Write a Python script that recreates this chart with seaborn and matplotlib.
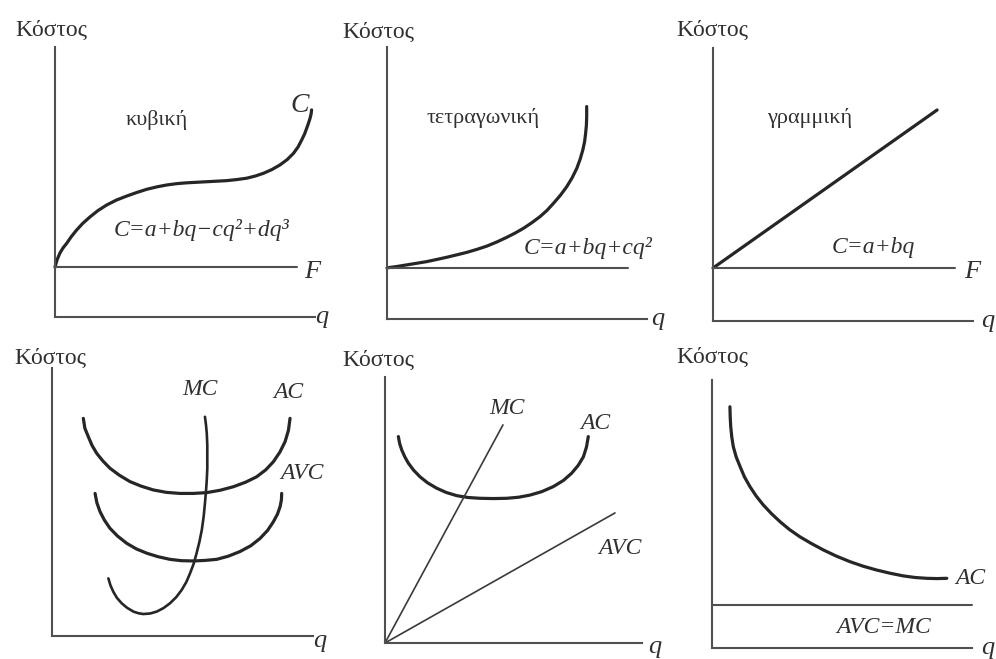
import matplotlib
matplotlib.use("Agg")
import matplotlib.pyplot as plt
import seaborn as sns

# ---------------- data (q on 0..10, cost on 0..10 in every panel) ----------------
# cubic total cost C = a + bq - cq^2 + dq^3 and its fixed cost F
cubic_q = [0.00, 0.08, 0.19, 0.31, 0.45, 0.63, 0.83, 1.07, 1.35, 1.65, 1.99,
           2.36, 2.76, 3.14, 3.53, 3.92, 4.30, 4.69, 5.07, 5.45, 5.83, 6.22,
           6.60, 6.99, 7.37, 7.70, 8.01, 8.34, 8.65, 8.93, 9.17, 9.35, 9.49,
           9.60, 9.68, 9.75, 9.81, 9.85, 9.87]
cubic_c = [1.85, 2.12, 2.37, 2.56, 2.73, 2.98, 3.22, 3.47, 3.71, 3.94, 4.15,
           4.33, 4.48, 4.61, 4.73, 4.82, 4.89, 4.94, 4.97, 4.99, 5.01, 5.03,
           5.05, 5.09, 5.14, 5.22, 5.32, 5.46, 5.63, 5.83, 6.06, 6.30, 6.56,
           6.78, 6.99, 7.18, 7.36, 7.52, 7.67]
cubic_fixed = 1.85
cubic_fixed_q = [0.0, 9.3]

# quadratic total cost C = a + bq + cq^2
quad_q = [0.00, 0.38, 0.76, 1.15, 1.53, 1.92, 2.30, 2.69, 3.07, 3.46, 3.84,
          4.22, 4.60, 4.93, 5.24, 5.57, 5.88, 6.15, 6.40, 6.67, 6.91, 7.12,
          7.30, 7.43, 7.53, 7.60, 7.64, 7.67, 7.68, 7.68]
quad_c = [1.88, 1.93, 1.99, 2.05, 2.11, 2.19, 2.27, 2.36, 2.45, 2.56, 2.68,
          2.83, 3.00, 3.16, 3.33, 3.54, 3.76, 3.99, 4.25, 4.55, 4.86, 5.19,
          5.54, 5.88, 6.21, 6.52, 6.83, 7.14, 7.44, 7.81]
quad_fixed = 1.88
quad_fixed_q = [0.0, 9.27]

# linear total cost C = a + bq
lin_q = [0.00, 8.62]
lin_c = [1.94, 7.73]
lin_fixed = 1.94
lin_fixed_q = [0.0, 9.31]

# unit costs for the cubic case
u_ac_q = [1.20, 1.26, 1.39, 1.53, 1.71, 1.95, 2.22, 2.58, 2.99, 3.42, 3.88,
          4.38, 4.90, 5.42, 5.93, 6.45, 6.95, 7.42, 7.84, 8.19, 8.48, 8.73,
          8.93, 9.06, 9.12]
u_ac_c = [8.12, 7.75, 7.44, 7.12, 6.82, 6.53, 6.26, 6.00, 5.76, 5.59, 5.45,
          5.36, 5.32, 5.32, 5.35, 5.44, 5.57, 5.74, 5.94, 6.20, 6.50, 6.86,
          7.25, 7.68, 8.12]
u_avc_q = [1.65, 1.72, 1.84, 2.01, 2.22, 2.51, 2.86, 3.23, 3.63, 4.06, 4.52,
           4.96, 5.41, 5.86, 6.31, 6.76, 7.20, 7.62, 7.97, 8.26, 8.48, 8.64,
           8.74, 8.79, 8.80]
u_avc_c = [5.32, 4.97, 4.64, 4.32, 4.02, 3.73, 3.46, 3.25, 3.09, 2.96, 2.86,
           2.81, 2.80, 2.82, 2.86, 2.98, 3.15, 3.37, 3.64, 3.94, 4.26, 4.55,
           4.83, 5.08, 5.32]
u_mc_q = [2.16, 2.24, 2.35, 2.49, 2.67, 2.88, 3.12, 3.31, 3.50, 3.76, 4.01,
          4.27, 4.52, 4.76, 4.97, 5.15, 5.29, 5.43, 5.54, 5.65, 5.74, 5.81,
          5.86, 5.90, 5.93, 5.95, 5.95, 5.95, 5.93, 5.90, 5.86]
u_mc_c = [2.15, 1.89, 1.65, 1.42, 1.22, 1.05, 0.91, 0.85, 0.82, 0.84, 0.91,
          1.04, 1.22, 1.45, 1.72, 2.02, 2.34, 2.70, 3.09, 3.52, 3.96, 4.45,
          4.95, 5.40, 5.82, 6.25, 6.69, 7.12, 7.56, 7.88, 8.18]

# unit costs for the quadratic case
r_ac_q = [0.52, 0.57, 0.65, 0.77, 0.91, 1.11, 1.36, 1.66, 2.01, 2.38, 2.79,
          3.23, 3.70, 4.22, 4.74, 5.20, 5.64, 6.10, 6.55, 6.94, 7.26, 7.52,
          7.72, 7.84, 7.91]
r_ac_c = [7.76, 7.50, 7.26, 7.00, 6.76, 6.50, 6.25, 6.02, 5.82, 5.66, 5.54,
          5.47, 5.44, 5.43, 5.44, 5.48, 5.56, 5.69, 5.88, 6.11, 6.38, 6.68,
          7.00, 7.37, 7.76]
r_mc_q = [0.0, 4.59]
r_mc_c = [0.0, 8.20]
r_avc_q = [0.0, 8.95]
r_avc_c = [0.0, 4.89]

# unit costs for the linear case
h_ac_q = [0.69, 0.70, 0.72, 0.76, 0.82, 0.93, 1.08, 1.25, 1.46, 1.70, 1.97,
          2.28, 2.62, 2.98, 3.38, 3.82, 4.28, 4.78, 5.31, 5.82, 6.33, 6.85,
          7.36, 7.82, 8.26, 8.65, 9.03]
h_ac_c = [9.00, 8.63, 8.26, 7.88, 7.51, 7.13, 6.77, 6.38, 6.02, 5.67, 5.34,
          5.02, 4.71, 4.42, 4.15, 3.90, 3.66, 3.43, 3.22, 3.05, 2.91, 2.79,
          2.69, 2.63, 2.60, 2.59, 2.60]
h_mc = 1.60
h_mc_q = [0.0, 10.0]

y_title = "Κόστος"
x_title = "q"

# ---------------- styling ----------------
INK = "#262626"
AXIS = "#505050"
TXT = "#303030"

sns.set_theme(style="white")
plt.rcParams["font.family"] = ["Liberation Serif", "DejaVu Serif"]

W, H = 996, 659
fig = plt.figure(figsize=(W / 100, H / 100), dpi=100)
fig.patch.set_facecolor("white")

# panel frames in pixels: (x origin, x end, y origin, y top)
boxes = [
    (55, 315, 317, 47),
    (387, 647, 319, 47),
    (713, 973, 321, 48),
    (52, 313, 636, 368),
    (385, 642, 643, 377),
    (712, 972, 648, 380),
]


def make_axes(box):
    x0, x1, yb, yt = box
    ax = fig.add_axes([x0 / W, 1 - yb / H, (x1 - x0) / W, (yb - yt) / H])
    ax.set_xlim(0, 10)
    ax.set_ylim(0, 10)
    ax.set_xticks([])
    ax.set_yticks([])
    for s in ("top", "right"):
        ax.spines[s].set_visible(False)
    for s in ("left", "bottom"):
        ax.spines[s].set_color(AXIS)
        ax.spines[s].set_linewidth(1.5)
    ax.patch.set_alpha(0)
    return ax


def curve(ax, q, c, lw=2.3, color=INK):
    sns.lineplot(x=q, y=c, ax=ax, estimator=None, sort=False, color=color,
                 lw=lw, clip_on=False, legend=False,
                 solid_capstyle="round", solid_joinstyle="round")
    ax.set_xlabel("")
    ax.set_ylabel("")


def label(ax, q, c, s, size=17, italic=True, ha="center", va="center"):
    ax.text(q, c, s, ha=ha, va=va, fontsize=size, color=TXT,
            style="italic" if italic else "normal", clip_on=False)


axes = [make_axes(b) for b in boxes]
title_pos = [(-0.15, 10.63), (-0.35, 10.55), (-0.04, 10.66),
             (-0.08, 10.37), (-0.27, 10.64), (0.0, 10.86)]
q_pos = [(10.27, 0.0), (10.42, 0.0), (10.58, 0.0),
         (10.27, -0.2), (10.5, -0.15), (10.6, 0.0)]
for ax, (tq, tc), (qq, qc) in zip(axes, title_pos, q_pos):
    label(ax, tq, tc, y_title, size=17, italic=False)
    label(ax, qq, qc, x_title, size=19)

# cubic
ax = axes[0]
curve(ax, cubic_q, cubic_c)
curve(ax, cubic_fixed_q, [cubic_fixed] * 2, lw=1.5, color=AXIS)
label(ax, 9.42, 7.85, "C", size=20)
label(ax, 3.92, 7.30, "κυβική", size=16, italic=False)
label(ax, 5.65, 3.22, "C=a+bq\u2212cq²+dq³", size=17)
label(ax, 9.88, 1.67, "F", size=19)

# quadratic
ax = axes[1]
curve(ax, quad_q, quad_c)
curve(ax, quad_fixed_q, [quad_fixed] * 2, lw=1.5, color=AXIS)
label(ax, 3.69, 7.39, "τετραγωνική", size=16, italic=False)
label(ax, 7.73, 2.61, "C=a+bq+cq²", size=17)

# linear
ax = axes[2]
curve(ax, lin_q, lin_c)
curve(ax, lin_fixed_q, [lin_fixed] * 2, lw=1.5, color=AXIS)
label(ax, 3.73, 7.44, "γραμμική", size=16, italic=False)
label(ax, 6.15, 2.71, "C=a+bq", size=17)
label(ax, 9.96, 1.79, "F", size=19)

# unit costs, cubic
ax = axes[3]
curve(ax, u_ac_q, u_ac_c)
curve(ax, u_avc_q, u_avc_c)
curve(ax, u_mc_q, u_mc_c, lw=1.9)
label(ax, 5.67, 9.18, "MC")
label(ax, 9.04, 9.10, "AC")
label(ax, 9.58, 6.08, "AVC")

# unit costs, quadratic
ax = axes[4]
curve(ax, r_ac_q, r_ac_c)
curve(ax, r_mc_q, r_mc_c, lw=1.2, color="#3a3a3a")
curve(ax, r_avc_q, r_avc_c, lw=1.2, color="#3a3a3a")
label(ax, 4.75, 8.83, "MC")
label(ax, 8.17, 8.27, "AC")
label(ax, 9.14, 3.57, "AVC")

# unit costs, linear
ax = axes[5]
curve(ax, h_ac_q, h_ac_c)
curve(ax, h_mc_q, [h_mc] * 2, lw=1.5, color=AXIS)
label(ax, 9.95, 2.60, "AC")
label(ax, 6.62, 0.78, "AVC=MC")

fig.savefig("out.png", dpi=100, facecolor="white")
